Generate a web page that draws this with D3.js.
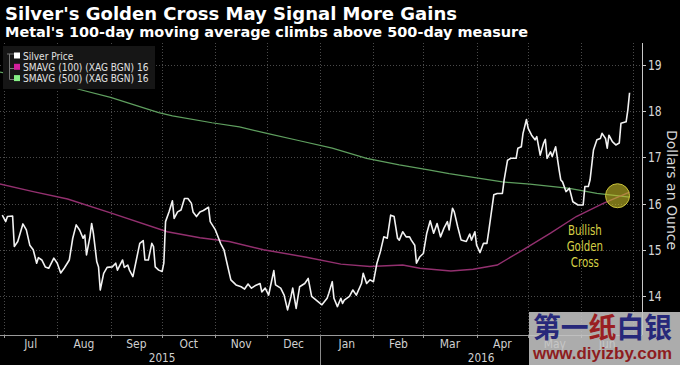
<!DOCTYPE html>
<html><head><meta charset="utf-8">
<script src="https://cdn.jsdelivr.net/npm/d3@7"></script>
<style>
html,body{margin:0;padding:0;background:#000;}
svg{display:block;}
.cond{font-family:"DejaVu Sans",sans-serif;}
</style></head>
<body>
<svg id="chart" width="680" height="365"></svg>
<script>
const titleText = "Silver's Golden Cross May Signal More Gains";
const subtitleText = "Metal's 100-day moving average climbs above 500-day measure";
const legendLabels = ["Silver Price", "SMAVG (100) (XAG BGN) 16", "SMAVG (500) (XAG BGN) 16"];
const yTicks = [14, 15, 16, 17, 18, 19];
const yAxisTitle = "Dollars an Ounce";
const yearLabels = ["2015", "2016"];
const annotationLines = ["Bullish", "Golden", "Cross"];
const crossDate = "2016-06-22";
const crossValue = 16.17;
const annotationDate = "2016-06-03";

const priceDates = ["2015-06-30","2015-07-02","2015-07-03","2015-07-06","2015-07-07","2015-07-09","2015-07-12","2015-07-14","2015-07-16","2015-07-18",
"2015-07-20","2015-07-21","2015-07-23","2015-07-25","2015-07-27","2015-07-30","2015-08-01","2015-08-03","2015-08-05","2015-08-08",
"2015-08-10","2015-08-12","2015-08-14","2015-08-16","2015-08-17","2015-08-18","2015-08-20","2015-08-21","2015-08-22","2015-08-24",
"2015-08-25","2015-08-26","2015-08-28","2015-08-30","2015-09-02","2015-09-04","2015-09-05","2015-09-08","2015-09-09","2015-09-11",
"2015-09-12","2015-09-14","2015-09-16","2015-09-18","2015-09-20","2015-09-21","2015-09-23","2015-09-25","2015-09-26","2015-09-27",
"2015-09-29","2015-10-01","2015-10-02","2015-10-03","2015-10-05","2015-10-07","2015-10-08","2015-10-10","2015-10-12","2015-10-14",
"2015-10-16","2015-10-18","2015-10-19","2015-10-21","2015-10-23","2015-10-25","2015-10-28","2015-10-29","2015-11-01","2015-11-04",
"2015-11-06","2015-11-08","2015-11-10","2015-11-13","2015-11-16","2015-11-18","2015-11-20","2015-11-22","2015-11-24","2015-11-27",
"2015-11-28","2015-11-30","2015-12-02","2015-12-03","2015-12-05","2015-12-06","2015-12-09","2015-12-11","2015-12-13","2015-12-15",
"2015-12-16","2015-12-18","2015-12-20","2015-12-23","2015-12-25","2015-12-27","2015-12-30","2016-01-02","2016-01-05","2016-01-06",
"2016-01-08","2016-01-09","2016-01-11","2016-01-13","2016-01-14","2016-01-15","2016-01-18","2016-01-20","2016-01-22","2016-01-25",
"2016-01-26","2016-01-28","2016-01-30","2016-02-01","2016-02-03","2016-02-05","2016-02-07","2016-02-09","2016-02-11","2016-02-13",
"2016-02-15","2016-02-16","2016-02-18","2016-02-20","2016-02-22","2016-02-23","2016-02-25","2016-02-26","2016-02-28","2016-03-01",
"2016-03-03","2016-03-05","2016-03-07","2016-03-09","2016-03-11","2016-03-13","2016-03-15","2016-03-16","2016-03-18","2016-03-19",
"2016-03-21","2016-03-23","2016-03-26","2016-03-28","2016-03-29","2016-03-31","2016-04-01","2016-04-03","2016-04-05","2016-04-07",
"2016-04-08","2016-04-11","2016-04-13","2016-04-16","2016-04-17","2016-04-19","2016-04-21","2016-04-24","2016-04-25","2016-04-27",
"2016-04-28","2016-04-30","2016-05-01","2016-05-03","2016-05-05","2016-05-06","2016-05-08","2016-05-10","2016-05-11","2016-05-12",
"2016-05-14","2016-05-15","2016-05-17","2016-05-19","2016-05-20","2016-05-21","2016-05-23","2016-05-25","2016-05-27","2016-05-30",
"2016-06-02","2016-06-03","2016-06-05","2016-06-06","2016-06-08","2016-06-10","2016-06-12","2016-06-13","2016-06-15","2016-06-16",
"2016-06-17","2016-06-19","2016-06-21","2016-06-23","2016-06-24","2016-06-27","2016-06-28","2016-06-29"];
const priceValues = [15.75,15.61,15.72,15.73,15.07,15.18,15.56,15.43,15.10,15.00,
14.71,14.83,14.78,14.63,14.60,14.82,14.71,14.50,14.60,14.78,
15.25,15.54,15.43,15.25,15.32,14.89,15.28,15.57,15.36,14.74,
14.63,14.13,14.49,14.62,14.63,14.71,14.56,14.78,14.62,14.67,
14.56,14.42,14.78,15.14,15.20,14.78,14.78,15.14,15.07,14.63,
14.56,14.53,14.71,15.61,15.82,16.06,15.68,15.82,15.86,16.11,
16.11,16.01,15.82,15.72,15.82,15.85,15.92,15.61,15.43,15.14,
15.00,14.67,14.35,14.24,14.20,14.15,14.26,14.17,14.22,14.27,
14.09,14.17,14.02,14.20,14.55,14.24,14.17,14.02,13.70,13.99,
14.17,13.73,14.20,14.27,14.38,13.99,13.90,13.81,13.95,14.06,
14.31,13.95,13.77,13.95,13.84,13.91,13.99,14.13,14.02,14.27,
14.49,14.27,14.35,14.31,14.71,14.96,15.28,15.25,15.75,15.72,
15.25,15.21,15.39,15.28,15.28,15.21,15.10,14.71,14.85,14.92,
15.36,15.63,15.36,15.57,15.28,15.47,15.61,15.43,15.90,15.82,
15.50,15.21,15.18,15.34,15.21,15.39,15.10,14.94,15.14,15.14,
15.39,16.19,16.22,16.22,16.51,16.94,16.98,16.98,17.20,17.23,
17.52,17.82,17.63,17.48,17.38,17.45,17.05,17.31,17.39,16.98,
17.12,17.02,17.23,16.73,16.51,16.47,16.26,16.33,16.04,15.97,
15.97,16.37,16.37,16.51,17.16,17.38,17.41,17.52,17.41,17.20,
17.48,17.34,17.27,17.31,17.74,17.77,18.03,18.40];

const sma100Dates = ["2015-06-28","2015-07-18","2015-08-07","2015-09-01","2015-10-04","2015-10-23","2015-11-09","2015-11-29","2015-12-24","2016-01-13",
"2016-01-30","2016-02-18","2016-02-28","2016-03-17","2016-03-30","2016-04-13","2016-04-28","2016-05-14","2016-05-29","2016-06-14","2016-06-29"];
const sma100Values = [16.43,16.26,16.10,15.80,15.39,15.26,15.18,15.00,14.84,14.69,
14.64,14.67,14.60,14.54,14.58,14.67,15.00,15.36,15.72,16.01,16.25];

const sma500Dates = ["2015-06-28","2015-08-03","2015-08-14","2015-09-01","2015-09-29","2015-10-07","2015-10-30","2015-11-15","2015-12-01","2015-12-20",
"2016-01-08","2016-01-28","2016-02-16","2016-03-04","2016-03-16","2016-04-16","2016-05-02","2016-05-25","2016-06-10","2016-06-29"];
const sma500Values = [18.85,18.61,18.47,18.30,17.97,17.90,17.75,17.66,17.52,17.36,
17.20,16.98,16.84,16.73,16.65,16.47,16.42,16.33,16.22,16.14];

const parse = d3.utcParse("%Y-%m-%d");
const svg = d3.select("#chart");
svg.append("rect").attr("width",680).attr("height",365).attr("fill","#000");

// narrow a text horizontally, like the condensed chart font
function condense(sel, factor) {
  sel.each(function() {
    const len = this.getComputedTextLength();
    d3.select(this).attr("textLength", len * factor).attr("lengthAdjust", "spacingAndGlyphs");
  });
}

const x = d3.scaleUtc().domain([parse("2015-07-01"), parse("2016-07-01")]).range([4, 633]);
const y = d3.scaleLinear().domain([14, 19]).range([296, 65]);
const plotLeft = 0, plotRight = 642, plotTop = 43, plotBottom = 335;

// gridlines
const months = d3.utcMonth.range(parse("2015-07-01"), parse("2016-07-02"));
svg.append("g").selectAll("line").data(months).join("line")
  .attr("x1", d => Math.round(x(d)) + 0.5).attr("x2", d => Math.round(x(d)) + 0.5)
  .attr("y1", plotTop).attr("y2", plotBottom)
  .attr("stroke", "#4a4a4a").attr("stroke-width", 1).attr("stroke-dasharray", "1,2");
svg.append("g").selectAll("line").data(yTicks).join("line")
  .attr("x1", plotLeft).attr("x2", plotRight)
  .attr("y1", d => Math.round(y(d)) + 0.5).attr("y2", d => Math.round(y(d)) + 0.5)
  .attr("stroke", "#4a4a4a").attr("stroke-width", 1).attr("stroke-dasharray", "1,2");

// clip
svg.append("clipPath").attr("id","clip").append("rect")
  .attr("x", plotLeft).attr("y", plotTop).attr("width", plotRight - plotLeft).attr("height", plotBottom - plotTop);

const line = d3.line().x(d => x(d[0])).y(d => y(d[1]));
const zipSeries = (ds, vs) => ds.map((d, i) => [parse(d), vs[i]]);
const g = svg.append("g").attr("clip-path", "url(#clip)");
g.append("path").datum(zipSeries(sma500Dates, sma500Values)).attr("d", line)
  .attr("fill","none").attr("stroke","#5f9f5f").attr("stroke-width",1.2);
g.append("path").datum(zipSeries(sma100Dates, sma100Values)).attr("d", line)
  .attr("fill","none").attr("stroke","#93306f").attr("stroke-width",1.4);
g.append("path").datum(zipSeries(priceDates, priceValues)).attr("d", line)
  .attr("fill","none").attr("stroke","#f2f2f2").attr("stroke-width",1.6).attr("stroke-linejoin","round");

// golden cross marker
svg.append("circle").attr("cx", x(parse(crossDate))).attr("cy", y(crossValue)).attr("r", 12)
  .attr("fill", "rgba(200,190,40,0.6)").attr("stroke", "#c9c23a").attr("stroke-width", 1);
svg.append("g").selectAll("text").data(annotationLines).join("text")
  .attr("class","cond")
  .attr("x", x(parse(annotationDate))).attr("y", (d, i) => 235 + i * 16)
  .attr("text-anchor","middle").attr("font-size", 13.5).attr("fill","#d6cf45")
  .text(d => d).call(condense, 0.76);

// right axis
svg.append("line").attr("x1", plotRight + 0.5).attr("x2", plotRight + 0.5).attr("y1", plotTop).attr("y2", plotBottom)
  .attr("stroke","#c8c8c8").attr("stroke-width",1);
const yt = svg.append("g").selectAll("g").data(yTicks).join("g");
yt.append("line").attr("x1", plotRight).attr("x2", plotRight + 4)
  .attr("y1", d => Math.round(y(d)) + 0.5).attr("y2", d => Math.round(y(d)) + 0.5)
  .attr("stroke","#c8c8c8");
yt.append("text").attr("class","cond").attr("x", plotRight + 6).attr("y", d => y(d) + 5)
  .attr("font-size", 13.5).attr("fill","#d6d6d6").text(d => d).call(condense, 0.8);
svg.append("text").attr("class","cond")
  .attr("transform", "translate(667," + 190 + ") rotate(90)")
  .attr("text-anchor","middle").attr("font-size", 14).attr("fill","#d8d8d8").text(yAxisTitle);

// bottom axis
svg.append("line").attr("x1", 0).attr("x2", plotRight).attr("y1", plotBottom + 0.5).attr("y2", plotBottom + 0.5)
  .attr("stroke","#9a9a9a");
svg.append("g").selectAll("line").data(months).join("line")
  .attr("x1", d => Math.round(x(d)) + 0.5).attr("x2", d => Math.round(x(d)) + 0.5)
  .attr("y1", plotBottom).attr("y2", plotBottom + 3).attr("stroke","#9a9a9a");
const monthFmt = d3.utcFormat("%b");
svg.append("g").selectAll("text").data(months.slice(0, -1)).join("text")
  .attr("class","cond")
  .attr("x", (d, i) => (x(d) + x(months[i + 1])) / 2).attr("y", 348)
  .attr("text-anchor","middle").attr("font-size", 12.5).attr("fill","#d0d0d0")
  .text(d => monthFmt(d)).call(condense, 0.86);
const yearSplit = parse("2016-01-01");
svg.append("line").attr("x1", Math.round(x(yearSplit)) + 0.5).attr("x2", Math.round(x(yearSplit)) + 0.5)
  .attr("y1", plotBottom).attr("y2", 365).attr("stroke","#8a8a8a");
const yearCenters = [(x(parse("2015-07-01")) + x(yearSplit)) / 2, (x(yearSplit) + plotRight) / 2];
svg.append("g").selectAll("text").data(yearLabels).join("text")
  .attr("class","cond")
  .attr("x", (d, i) => yearCenters[i]).attr("y", 362)
  .attr("text-anchor","middle").attr("font-size", 12.5).attr("fill","#d0d0d0").text(d => d).call(condense, 0.84);

// legend
const legendColors = ["#ffffff", "#d21f9c", "#86ef86"];
svg.append("rect").attr("x", 3).attr("y", 46).attr("width", 152).attr("height", 43).attr("fill", "#161616");
svg.append("path").attr("d", "M9.5,54V79.5H14 M9.5,68.5H14 M7,54H14")
  .attr("fill","none").attr("stroke","#777").attr("stroke-width",1);
const lg = svg.append("g").selectAll("g").data(legendLabels).join("g")
  .attr("transform", (d, i) => "translate(14," + (52.5 + i * 11.3) + ")");
lg.append("rect").attr("width", 6).attr("height", 6).attr("y", 0).attr("fill", (d, i) => legendColors[i]);
lg.append("text").attr("class","cond").attr("x", 9).attr("y", 7).attr("font-size", 11)
  .attr("fill","#e2e2e2").text(d => d).call(condense, 0.82);

// titles
svg.append("text").attr("x", 5).attr("y", 20).attr("font-family","DejaVu Sans, sans-serif").attr("font-weight","bold")
  .attr("font-size", 18).attr("fill","#ffffff").attr("textLength", 452).attr("lengthAdjust","spacingAndGlyphs").text(titleText);
svg.append("text").attr("x", 5).attr("y", 37).attr("font-family","DejaVu Sans, sans-serif").attr("font-weight","bold")
  .attr("font-size", 14).attr("fill","#ffffff").attr("textLength", 523).attr("lengthAdjust","spacingAndGlyphs").text(subtitleText);

// watermark
const wm = svg.append("g");
wm.append("rect").attr("x", 529).attr("y", 312).attr("width", 151).attr("height", 53).attr("fill", "#c4c4c4").attr("opacity", 0.88);
const wmt = wm.append("text").attr("x", 533).attr("y", 338).attr("font-family", "Noto Sans CJK SC, sans-serif")
  .attr("font-weight", "bold").attr("font-size", 28).attr("textLength", 139).attr("lengthAdjust","spacingAndGlyphs");
wmt.append("tspan").attr("fill", "#27287a").text("第一");
wmt.append("tspan").attr("fill", "#9a1f22").text("纸");
wmt.append("tspan").attr("fill", "#27287a").text("白银");
wm.append("text").attr("x", 533).attr("y", 359).attr("font-family", "Liberation Sans, Arial, sans-serif")
  .attr("font-weight", "bold").attr("font-size", 17).attr("fill", "#8e1c20")
  .attr("textLength", 139).attr("lengthAdjust","spacingAndGlyphs").text("www.diyizby.com");
</script>
</body></html>
